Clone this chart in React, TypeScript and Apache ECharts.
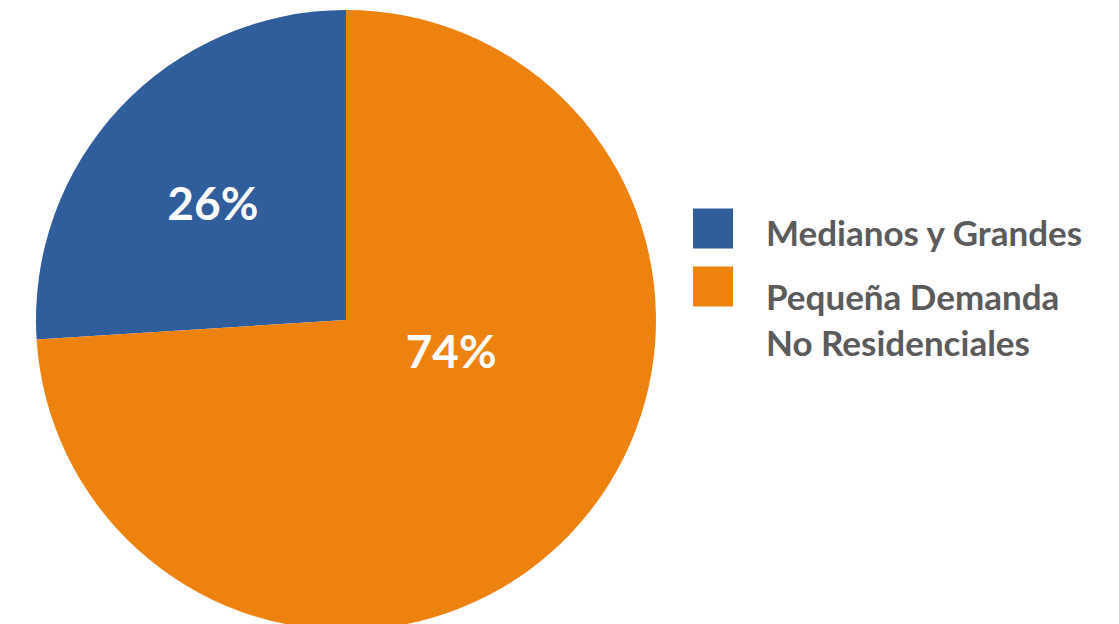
import React, { useEffect, useRef } from "react";
import * as echarts from "echarts";

const categories = ["Medianos y Grandes", "Pequeña Demanda\nNo Residenciales"];
const values = [26, 74];
const colors = ["#305D9B", "#EE820F"];
const labelShift = [
  { dx: -18, dy: -9 },
  { dx: -10, dy: -78 },
];

export default function App() {
  const ref = useRef<HTMLDivElement>(null);
  useEffect(() => {
    if (!ref.current) return;
    const chart = echarts.init(ref.current, null, { renderer: "svg" });
    chart.setOption({
      animation: false,
      backgroundColor: "#ffffff",
      legend: {
        orient: "vertical",
        left: 693,
        top: 205,
        padding: 0,
        itemWidth: 40,
        itemHeight: 40,
        itemGap: -9,
        icon: "rect",
        selectedMode: false,
        data: categories,
        formatter: (name: string) => {
          const lines = name.split("\n");
          const spacer = lines.length > 1 ? "s2" : "s1";
          return `{${spacer}| }\n` + lines.map((l) => `{a|${l}}`).join("\n");
        },
        textStyle: {
          color: "#5B5B5B",
          padding: [0, 0, 0, 28],
          rich: {
            a: {
              fontFamily: "Lato",
              fontWeight: "bold",
              fontSize: 35,
              color: "#5B5B5B",
              lineHeight: 46,
            },
            s1: { fontSize: 1, lineHeight: 6 },
            s2: { fontSize: 1, lineHeight: 64 },
          },
        },
      },
      series: [
        {
          type: "pie",
          center: [346, 320],
          radius: 310,
          startAngle: 90,
          clockwise: false,
          data: categories.map((name, i) => ({
            name,
            value: values[i],
            itemStyle: { color: colors[i] },
          })),
          label: {
            show: true,
            position: "inside",
            formatter: "{c}%",
            color: "#ffffff",
            fontFamily: "Lato",
            fontWeight: "bold",
            fontSize: 46,
          },
          labelLine: { show: false },
          labelLayout: (params: any) => labelShift[params.dataIndex],
          emphasis: { disabled: true },
        },
      ],
    });
    return () => chart.dispose();
  }, []);
  return (
    <div
      ref={ref}
      style={{ position: "fixed", left: 0, top: 0, width: 1119, height: 624 }}
    />
  );
}
